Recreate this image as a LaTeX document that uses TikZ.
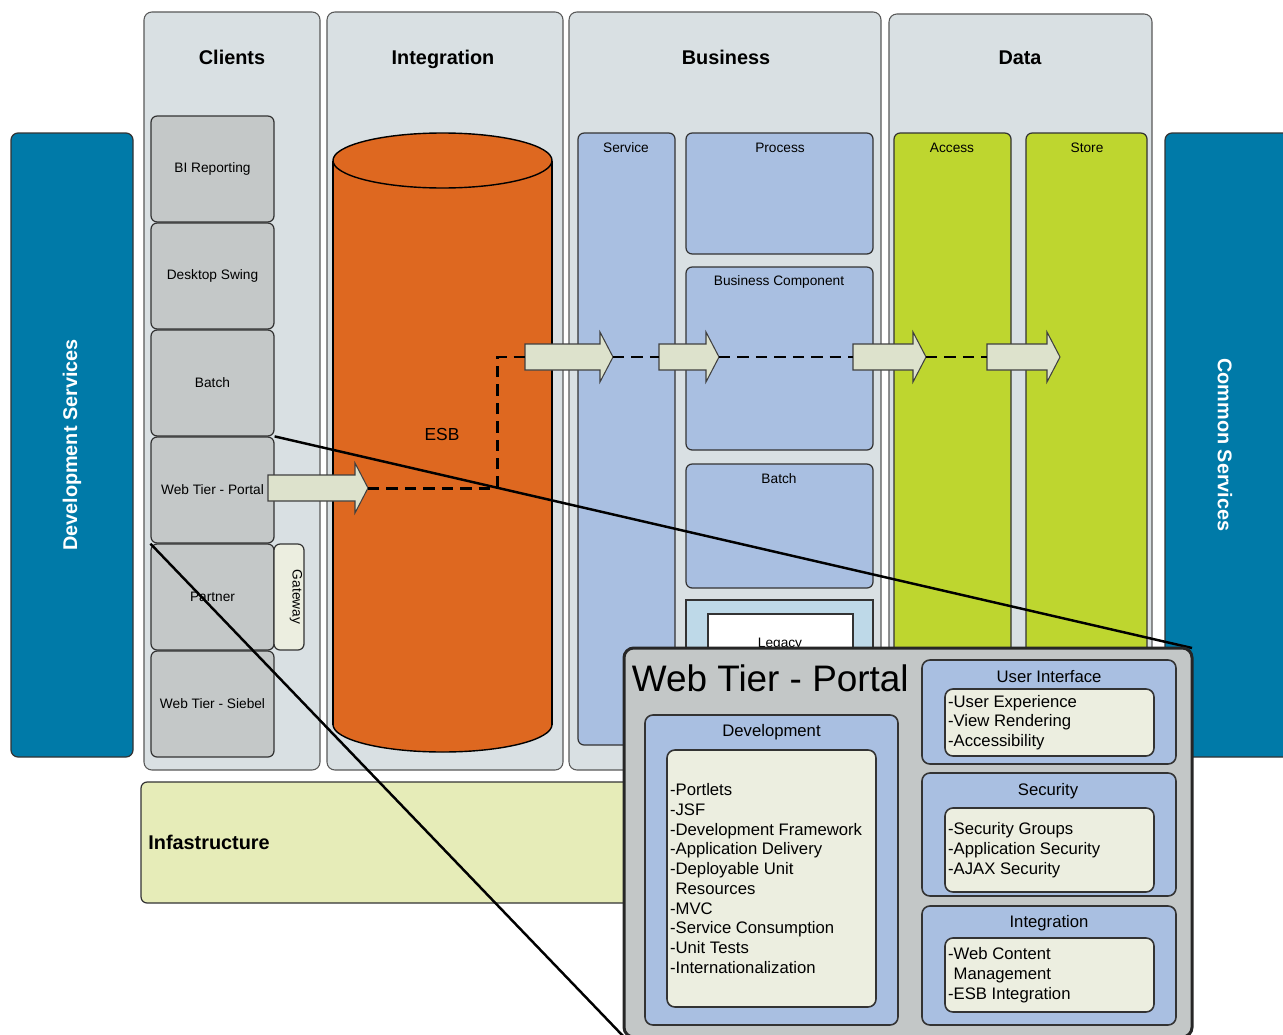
\documentclass[tikz,border=0pt]{standalone}
\usepackage{fontspec}
\setmainfont{Liberation Sans}
\usepackage{tikz}
\usetikzlibrary{fit}
\usepackage{xcolor}
\definecolor{layerbg}{RGB}{217,224,227}
\definecolor{clientgrey}{RGB}{196,200,200}
\definecolor{paleyellow}{RGB}{236,238,224}
\definecolor{arrowfill}{RGB}{221,226,204}
\definecolor{esborange}{RGB}{222,104,32}
\definecolor{bizblue}{RGB}{169,191,225}
\definecolor{datagreen}{RGB}{190,214,47}
\definecolor{infragreen}{RGB}{230,236,184}
\definecolor{servblue}{RGB}{0,122,168}
\definecolor{legacyblue}{RGB}{190,217,232}
\definecolor{zoomgrey}{RGB}{195,199,199}
\newcommand{\headfont}{\fontsize{11.3}{13}\selectfont\bfseries}
\newcommand{\smallfont}{\fontsize{7.8}{9}\selectfont}
\newcommand{\listfont}{\fontsize{9.5}{11.22}\selectfont}
\newcommand{\esbfont}{\fontsize{9.9}{12}\selectfont}
\newcommand{\titlefont}{\fontsize{21}{24}\selectfont}
% block arrow: name, x start, x tip, y
\newcommand{\blockarrow}[4]{%
  \draw[blockarr] (#2,#4-13)--(#3-13,#4-13)--(#3-13,#4-25)--(#3,#4)--(#3-13,#4+25)--(#3-13,#4+13)--(#2,#4+13)--cycle;
  \coordinate (#1-s) at (#2,#4); \coordinate (#1-t) at (#3,#4);}

\begin{document}
\begin{tikzpicture}[x=0.02cm, y=-0.02cm,
  layer/.style={draw=black!65, fill=layerbg, rounded corners=4.5pt, line width=0.6pt, inner sep=0pt},
  clientbox/.style={draw=black!80, fill=clientgrey, rounded corners=3.5pt, line width=0.7pt, inner sep=0pt},
  bizbox/.style={clientbox, fill=bizblue},
  databox/.style={clientbox, fill=datagreen},
  notebox/.style={clientbox, fill=paleyellow},
  servbox/.style={draw=black!80, fill=servblue, rounded corners=4pt, line width=0.7pt, inner sep=0pt},
  servtext/.style={font=\headfont, text=white},
  head/.style={font=\headfont},
  lbl/.style={font=\smallfont},
  blockarr/.style={draw=black!75, fill=arrowfill, line width=0.6pt},
  flow/.style={line width=1.7pt, dash pattern=on 6.5pt off 4pt},
  zoomline/.style={line width=1.4pt},
  zoompanel/.style={draw=black!85, fill=zoomgrey, line width=1.7pt, rounded corners=5.5pt, inner sep=0pt},
  subpanel/.style={draw=black!80, fill=bizblue, line width=0.9pt, rounded corners=4.5pt, inner sep=0pt},
  listbox/.style={draw=black!80, fill=paleyellow, line width=0.9pt, rounded corners=4.5pt, inner sep=0pt},
  listtext/.style={font=\listfont, align=left, inner sep=2pt},
  ptitle/.style={font=\listfont}]
  \useasboundingbox (0,0) rectangle (1283,1034);
  \clip (0,0) rectangle (1283,1034);
  \fill[white] (0,0) rectangle (1283,1034);

  % side services
  \node[servbox, fit={(11,133) (133,757)}] (devserv) {};
  \node[servtext, rotate=90] (devservT) at (devserv.center) {Development Services};
  \node[servbox, fit={(1165,133) (1290,757)}] (commserv) {};
  \node[servtext, rotate=-90] (commservT) at (1225,445) {Common Services};

  % layers
  \node[layer, fit={(144,12) (320,770)}] (clients) {};
  \node[layer, fit={(327,12) (563,770)}] (integ) {};
  \node[layer, fit={(569,12) (881,770)}] (business) {};
  \node[layer, fit={(889,14) (1152,770)}] (data) {};
  \node[head] (clientsT) at (232,57) {Clients};
  \node[head] (integT) at (443,59) {Integration};
  \node[head] (businessT) at (726,57) {Business};
  \node[head] (dataT) at (1020,58) {Data};

  % infrastructure
  \node[clientbox, fill=infragreen, fit={(141,782) (880,903)}] (infra) {};
  \node[head, anchor=west, inner sep=0pt] (infraT) at (148,842) {Infastructure};

  % clients
  \node[clientbox, fit={(151,116) (274,222)}] (bi) {};
  \node[lbl] (biT) at (bi.center) {BI Reporting};
  \node[clientbox, fit={(151,223) (274,329)}] (swing) {};
  \node[lbl] (swingT) at (swing.center) {Desktop Swing};
  \node[clientbox, fit={(151,330) (274,436)}] (batchC) {};
  \node[lbl] (batchCT) at (batchC.center) {Batch};
  \node[clientbox, fit={(151,437) (274,543)}] (portal) {};
  \node[lbl] (portalT) at (portal.center) {Web Tier - Portal};
  \node[clientbox, fit={(151,544) (274,650)}] (partner) {};
  \node[lbl] (partnerT) at (partner.center) {Partner};
  \node[clientbox, fit={(151,651) (274,757)}] (siebel) {};
  \node[lbl] (siebelT) at (siebel.center) {Web Tier - Siebel};
  \node[notebox, fit={(274,544) (304,650)}] (gateway) {};
  \node[lbl, rotate=-90] (gatewayT) at (296,597) {Gateway};

  % ESB
  \draw[fill=esborange, line width=0.8pt] (442.5,724.5) ellipse [x radius=109.5, y radius=27.5];
  \fill[esborange] (333,160.5) rectangle (552,724.5);
  \draw[line width=0.8pt] (333,160.5)--(333,724.5) (552,160.5)--(552,724.5);
  \draw[fill=esborange, line width=0.8pt] (442.5,160.5) ellipse [x radius=109.5, y radius=27.5];
  \node[font=\esbfont] (esb) at (442,435) {ESB};

  % business
  \node[bizbox, fit={(578,133) (675,745)}] (service) {};
  \node[lbl] (serviceT) at (626,148) {Service};
  \node[bizbox, fit={(686,133) (873,254)}] (process) {};
  \node[lbl] (processT) at (780,148) {Process};
  \node[bizbox, fit={(686,267) (873,450)}] (bizcomp) {};
  \node[lbl] (bizcompT) at (779,282) {Business Component};
  \node[bizbox, fit={(686,464) (873,588)}] (batchB) {};
  \node[lbl] (batchBT) at (779,479) {Batch};
  \node[draw=black!80, fill=legacyblue, line width=0.7pt, inner sep=0pt, fit={(686,600) (873,760)}] (legacy) {};
  \node[draw=black!80, fill=white, line width=0.7pt, inner sep=0pt, fit={(708,614) (853,760)}] (legacyI) {};
  \node[lbl] (legacyT) at (780,644) {Legacy};

  % data
  \node[databox, fit={(894,133) (1011,760)}] (access) {};
  \node[lbl] (accessT) at (952,148) {Access};
  \node[databox, fit={(1026,133) (1147,760)}] (store) {};
  \node[lbl] (storeT) at (1087,148) {Store};

  % request flow
  \blockarrow{a1}{268}{368}{488}
  \blockarrow{a2}{525}{613}{357}
  \blockarrow{a3}{659}{719}{357}
  \blockarrow{a4}{853}{926}{357}
  \blockarrow{a5}{987}{1060}{357}
  \coordinate (bend) at (497,357);
  \draw[flow] (a1-t) -| (bend) -- (a2-s);
  \draw[flow] (a2-t) -- (a3-s);
  \draw[flow] (a3-t) -- (a4-s);
  \draw[flow] (a4-t) -- (a5-s);

  % zoom of Web Tier - Portal
  \coordinate (zoomNE) at (1192,648);
  \coordinate (zoomSW) at (624,1037);
  \draw[zoomline] (portal.north east) -- (zoomNE);
  \draw[zoomline] (portal.south west) -- (zoomSW);
  \node[zoompanel, fit=(zoomNE) (zoomSW)] (zoom) {};
  \node[font=\titlefont, anchor=west, inner sep=2pt] (zoomT) at (628,678) {Web Tier - Portal};

  \node[subpanel, fit={(645,715) (898,1025)}] (dev) {};
  \node[ptitle] (devT) at (771.5,732) {Development};
  \node[listbox, fit={(667,750) (876,1007)}] (devI) {};
  \node[listtext, anchor=west] (devL) at (devI.west) {-Portlets\\-JSF\\-Development Framework\\-Application Delivery\\-Deployable Unit\\\hphantom{-}Resources\\-MVC\\-Service Consumption\\-Unit Tests\\-Internationalization};

  \node[subpanel, fit={(922,660) (1176,764)}] (ui) {};
  \node[ptitle] (uiT) at (1049,677) {User Interface};
  \node[listbox, fit={(945,689) (1154,756)}] (uiI) {};
  \node[listtext, anchor=west] (uiL) at (uiI.west) {-User Experience\\-View Rendering\\-Accessibility};

  \node[subpanel, fit={(922,773) (1176,896)}] (sec) {};
  \node[ptitle] (secT) at (1048,791) {Security};
  \node[listbox, fit={(945,808) (1154,892)}] (secI) {};
  \node[listtext, anchor=west] (secL) at (secI.west) {-Security Groups\\-Application Security\\-AJAX Security};

  \node[subpanel, fit={(922,906) (1176,1025)}] (intg) {};
  \node[ptitle] (intgT) at (1049,923) {Integration};
  \node[listbox, fit={(945,938) (1154,1012)}] (intgI) {};
  \node[listtext, anchor=west] (intgL) at (intgI.west) {-Web Content\\\hphantom{-}Management\\-ESB Integration};
\end{tikzpicture}
\end{document}
